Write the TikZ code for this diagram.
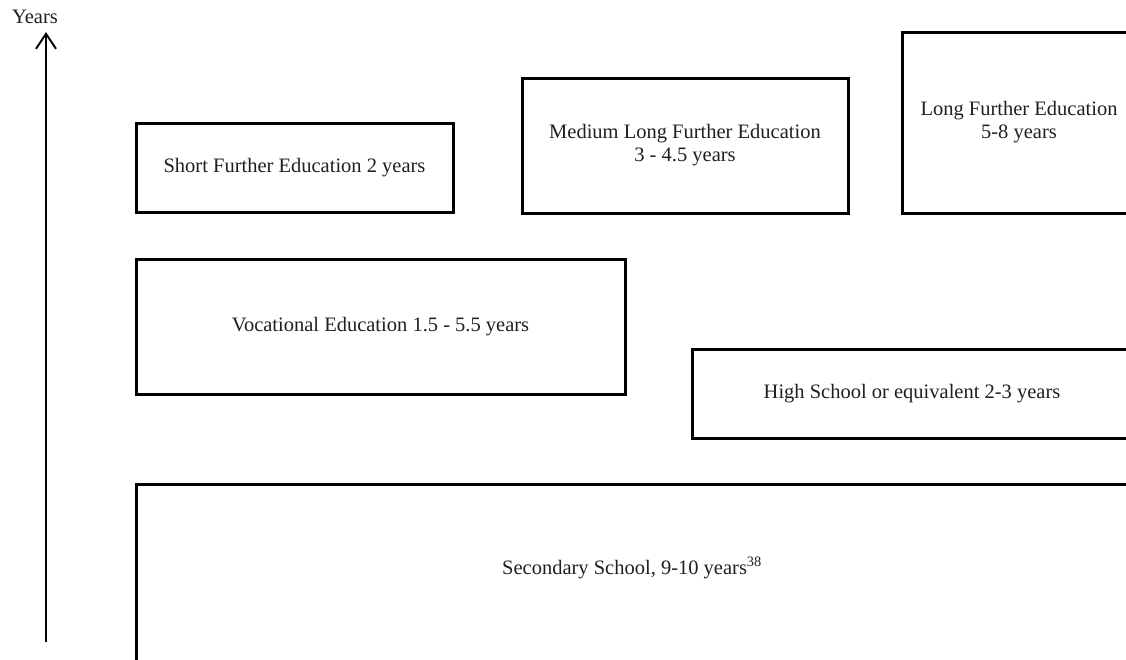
\documentclass[tikz,border=0pt]{standalone}
\usepackage{fontspec}
\setmainfont{Liberation Serif}
\usetikzlibrary{arrows.meta}
\begin{document}
\begin{tikzpicture}[x=1pt,y=-1pt,
  every node/.style={font=\fontsize{20.5}{23}\selectfont, text=black!88, inner sep=0pt, outer sep=0pt},
  box/.style={draw=black, line width=3pt, rectangle, anchor=north west, align=center},
  axis/.style={line width=2pt, -{Straight Barb[length=15pt,width=20pt,line width=2pt]}}]
\useasboundingbox (0,0) rectangle (1126,659);
\clip (0,0) rectangle (1126,659);
% boxes
\node[box, minimum width=317pt, minimum height=89pt] (short) at (136,123) {Short Further Education 2 years};
\node[box, minimum width=326pt, minimum height=135pt] (medium) at (522,78) {Medium Long Further Education\\3 - 4.5 years};
\node[box, minimum width=234pt, minimum height=181pt] (long) at (902,32) {Long Further Education\\5-8 years};
\node[box, minimum width=489pt, minimum height=135pt] (voc) at (136,259) {Vocational Education 1.5 - 5.5 years};
\node[box, minimum width=440pt, minimum height=89pt] (high) at (692,349) {High School or equivalent 2-3 years};
\node[box, minimum width=1000pt, minimum height=260pt] (sec) at (136,484) {};
\node (sectext) at (632,568) {Secondary School, 9-10 years\textsuperscript{38}};
% axis
\node (ylab) at (35,17) {Years};
\coordinate (abase) at (46,642);
\coordinate (atip) at (46,32);
\draw[axis] (abase) -- (atip);
\end{tikzpicture}
\end{document}
